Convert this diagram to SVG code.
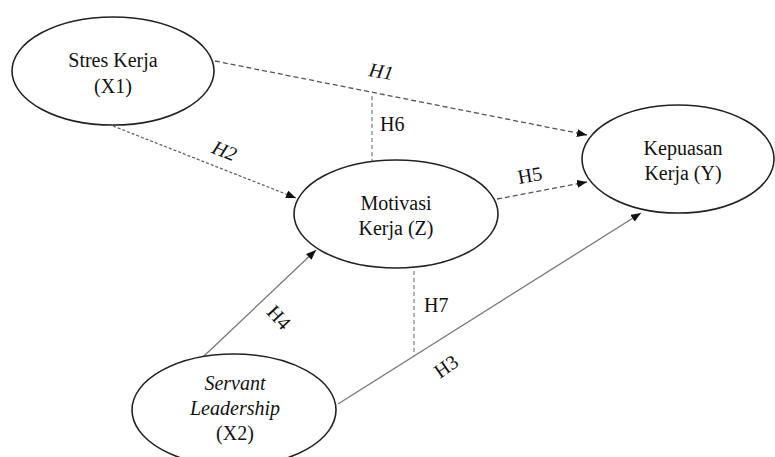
<svg xmlns="http://www.w3.org/2000/svg" width="775" height="457" viewBox="0 0 775 457">
<defs>
<style>
.node ellipse{fill:#fff;stroke:#222;stroke-width:1.6}
text{font-family:"Liberation Serif","Times New Roman",serif;font-size:20px;fill:#111}
.c{text-anchor:middle}
.it{font-style:italic}
.dash{fill:none;stroke:#555;stroke-width:1.3;stroke-dasharray:5 3}
.dot{fill:none;stroke:#666;stroke-width:1.3;stroke-dasharray:3 2}
.vd{fill:none;stroke:#888;stroke-width:1.3;stroke-dasharray:4 3}
.solid{fill:none;stroke:#777;stroke-width:1.3}
</style>
<marker id="arr" viewBox="0 0 10 8" refX="10" refY="4" markerWidth="10" markerHeight="8" markerUnits="userSpaceOnUse" orient="auto">
<path d="M0,0 L10,4 L0,8 Z" fill="#111"/>
</marker>
</defs>
<rect width="775" height="457" fill="#fff"/>
<g id="connectors">
<line class="dash" x1="215" y1="61" x2="587" y2="135" marker-end="url(#arr)"/>
<line class="vd" x1="372" y1="96" x2="372" y2="161"/>
<line class="dot" x1="113" y1="126" x2="296" y2="198" marker-end="url(#arr)"/>
<line class="dash" x1="497" y1="199" x2="587" y2="182" marker-end="url(#arr)"/>
<line class="solid" x1="204" y1="356" x2="316" y2="250" marker-end="url(#arr)"/>
<line class="vd" x1="414" y1="271" x2="414" y2="356"/>
<line class="solid" x1="338" y1="404" x2="641" y2="213" marker-end="url(#arr)"/>
<text class="c it" transform="translate(380,78) rotate(10)">H1</text>
<text x="380" y="131">H6</text>
<text class="c it" transform="translate(222,157) rotate(22)">H2</text>
<text class="c" transform="translate(531,182) rotate(-10)">H5</text>
<text class="c" transform="translate(274,322) rotate(47)">H4</text>
<text x="424" y="312">H7</text>
<text class="c" transform="translate(450,372) rotate(-35)">H3</text>
</g>
<g id="stres" class="node">
<ellipse cx="113" cy="71" rx="101" ry="54"/>
<text class="c" x="113" y="67">Stres Kerja</text>
<text class="c" x="113" y="93">(X1)</text>
</g>
<g id="motivasi" class="node">
<ellipse cx="396" cy="214" rx="102" ry="54"/>
<text class="c" x="396" y="210">Motivasi</text>
<text class="c" x="396" y="235">Kerja (Z)</text>
</g>
<g id="kepuasan" class="node">
<ellipse cx="678" cy="159" rx="96" ry="54"/>
<text class="c" x="683" y="155">Kepuasan</text>
<text class="c" x="683" y="180">Kerja (Y)</text>
</g>
<g id="servant" class="node">
<ellipse cx="234" cy="410" rx="102" ry="56"/>
<text class="c it" x="235" y="390">Servant</text>
<text class="c it" x="235" y="415">Leadership</text>
<text class="c" x="235" y="440">(X2)</text>
</g>
</svg>
